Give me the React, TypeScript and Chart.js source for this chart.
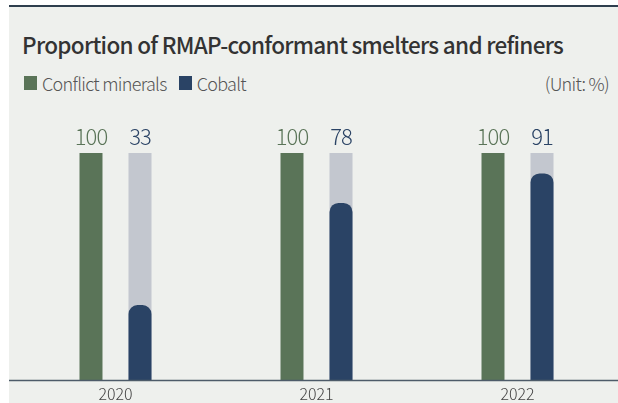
import React, { useEffect, useRef } from "react";
import { Chart, registerables } from "chart.js";

Chart.register(...registerables);

const years = ["2020", "2021", "2022"];
const conflictMinerals = [100, 100, 100];
const cobalt = [33, 78, 91];
const trackValues = [100, 100, 100];

const GREEN = "#5a7458";
const BLUE = "#2a4365";
const GRAY = "#c3c7cf";
const BG = "#eef0ed";
const FONT = "'Noto Sans CJK KR', 'Noto Sans', sans-serif";

const valueLabels = {
  id: "valueLabels",
  afterDatasetsDraw(chart: any) {
    const ctx = chart.ctx;
    const greenMeta = chart.getDatasetMeta(0);
    const trackMeta = chart.getDatasetMeta(2);
    ctx.save();
    ctx.font = `300 22px ${FONT}`;
    (ctx as any).letterSpacing = "-1px";
    ctx.textAlign = "center";
    ctx.textBaseline = "middle";
    greenMeta.data.forEach((bar: any, i: number) => {
      ctx.fillStyle = GREEN;
      ctx.fillText(String(conflictMinerals[i]), bar.x, bar.y - 16);
    });
    trackMeta.data.forEach((bar: any, i: number) => {
      ctx.fillStyle = BLUE;
      ctx.fillText(String(cobalt[i]), bar.x, bar.y - 16);
    });
    ctx.restore();
  },
};

const axisLine = {
  id: "axisLine",
  afterDraw(chart: any) {
    const ctx = chart.ctx;
    const y = chart.chartArea.bottom + 0.5;
    ctx.save();
    ctx.strokeStyle = "#4d5b69";
    ctx.lineWidth = 1.5;
    ctx.beginPath();
    ctx.moveTo(0, y);
    ctx.lineTo(chart.width, y);
    ctx.stroke();
    ctx.restore();
  },
};

export default function App() {
  const ref = useRef<HTMLCanvasElement>(null);

  useEffect(() => {
    if (!ref.current) return;
    const chart = new Chart(ref.current, {
      type: "bar",
      data: {
        labels: years,
        datasets: [
          {
            label: "Conflict minerals",
            data: conflictMinerals,
            backgroundColor: GREEN,
            stack: "g",
          },
          {
            label: "Cobalt",
            data: cobalt,
            backgroundColor: BLUE,
            stack: "c",
            borderRadius: 9,
            borderSkipped: "start",
          },
          {
            label: "track",
            data: trackValues,
            backgroundColor: GRAY,
            stack: "c",
          },
        ],
      },
      options: {
        animation: false,
        responsive: false,
        maintainAspectRatio: false,
        categoryPercentage: 0.4876,
        barPercentage: 0.469,
        layout: { padding: { left: 6, right: 0, top: 43, bottom: 0 } },
        plugins: {
          legend: { display: false },
          title: { display: false },
          tooltip: { enabled: false },
        },
        scales: {
          x: {
            grid: { display: false },
            border: { display: false },
            ticks: {
              color: "#444",
              padding: -4,
              font: { family: FONT, size: 16, weight: 300 },
            },
            afterFit: (scale: any) => {
              scale.height = 23;
            },
          },
          y: {
            display: false,
            stacked: false,
            min: 0,
            max: 100,
          },
        },
      },
      plugins: [valueLabels, axisLine],
    });
    return () => chart.destroy();
  }, []);

  return (
    <div
      style={{
        position: "absolute",
        left: 9,
        top: 5,
        width: 609,
        height: 398,
        background: BG,
        borderTop: "2px solid #2e3e4e",
        boxSizing: "border-box",
        fontFamily: FONT,
        overflow: "hidden",
      }}
    >
      <div
        style={{
          position: "absolute",
          left: 13,
          top: 22,
          fontSize: 22.5,
          fontWeight: 500,
          color: "#333",
          lineHeight: "30px",
          whiteSpace: "nowrap",
          letterSpacing: -0.7,
        }}
      >
        Proportion of RMAP-conformant smelters and refiners
      </div>
      <div
        style={{
          position: "absolute",
          left: 15,
          top: 64,
          fontSize: 18,
          fontWeight: 300,
          color: "#555",
          lineHeight: "24px",
          whiteSpace: "nowrap",
          display: "flex",
          alignItems: "center",
          letterSpacing: -0.7,
        }}
      >
        <span style={{ display: "inline-block", width: 13, height: 14, background: GREEN, marginRight: 5 }} />
        <span>Conflict minerals</span>
        <span style={{ display: "inline-block", width: 13, height: 14, background: BLUE, marginLeft: 12, marginRight: 5 }} />
        <span>Cobalt</span>
      </div>
      <div
        style={{
          position: "absolute",
          right: 9,
          top: 64,
          fontSize: 18,
          fontWeight: 300,
          color: "#555",
          lineHeight: "24px",
          whiteSpace: "nowrap",
          letterSpacing: -0.7,
        }}
      >
        (Unit: %)
      </div>
      <canvas
        ref={ref}
        width={609}
        height={293}
        style={{ position: "absolute", left: 0, top: 103, width: 609, height: 293 }}
      />
    </div>
  );
}
